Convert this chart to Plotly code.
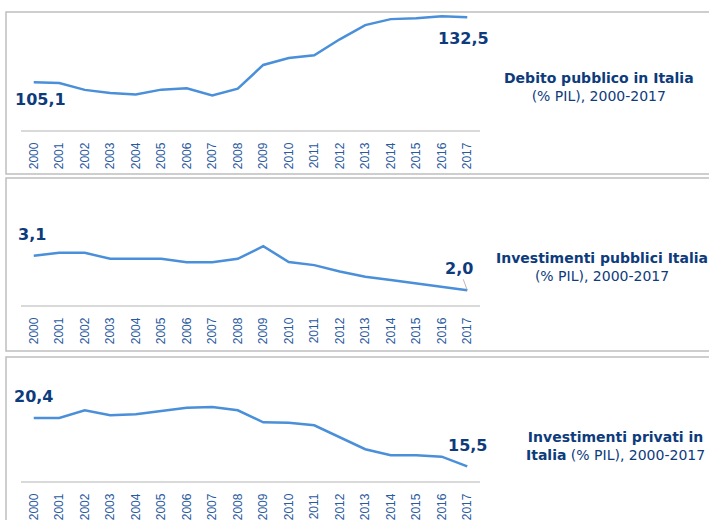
import plotly.graph_objects as go

# dati
anni = [str(a) for a in range(2000, 2018)]
debito = [105.1, 104.8, 101.9, 100.6, 100.0, 102.0, 102.6, 99.6, 102.4,
          112.4, 115.3, 116.5, 123.2, 129.2, 131.7, 132.1, 132.9, 132.5]
inv_pubblici = [3.1, 3.19, 3.19, 3.0, 3.0, 3.0, 2.89, 2.89, 3.0,
                3.4, 2.9, 2.8, 2.6, 2.43, 2.33, 2.22, 2.11, 2.0]
inv_privati = [20.4, 20.4, 21.18, 20.67, 20.78, 21.14, 21.44, 21.52, 21.18,
               19.96, 19.92, 19.66, 18.44, 17.23, 16.62, 16.62, 16.48, 15.5]

W, H = 709, 520
LINE = "#4a8fd9"
NAVY = "#0d3b7b"
TICK = "#2a5aa0"


def fy(px):
    # pixel dall'alto -> frazione paper
    return 1 - px / H


def lab(v):
    return f"{v:.1f}".replace(".", ",")


fig = go.Figure()
serie = [debito, inv_pubblici, inv_privati]
for i, s in enumerate(serie):
    n = "" if i == 0 else str(i + 1)
    fig.add_trace(go.Scatter(x=anni, y=s, mode="lines",
                             line=dict(color=LINE, width=2.5),
                             xaxis="x" + n, yaxis="y" + n,
                             showlegend=False, hoverinfo="skip"))

pannelli = [
    dict(top=12, bottom=130, rng=[85.0, 134.7]),
    dict(top=178, bottom=305, rng=[1.532, 5.57]),
    dict(top=357, bottom=481, rng=[14.01, 26.58]),
]
layout = {}
for i, p in enumerate(pannelli):
    n = "" if i == 0 else str(i + 1)
    layout["xaxis" + n] = dict(
        domain=[21 / W, 480 / W], anchor="y" + n, type="category",
        categoryorder="array", categoryarray=anni,
        range=[-0.5, len(anni) - 0.5],
        showline=True, linecolor="#d9d9d9", linewidth=1.5,
        showgrid=False, zeroline=False, ticks="", tickangle=-90,
        ticklabelstandoff=6,
        tickfont=dict(family="Liberation Sans", size=12, color=TICK))
    layout["yaxis" + n] = dict(
        domain=[fy(p["bottom"]), fy(p["top"])], anchor="x" + n,
        range=p["rng"], visible=False, fixedrange=True)

fig.update_layout(**layout)

# cornici dei pannelli
cornici = [(12, 174), (178, 351), (357, 540)]
for t, b in cornici:
    fig.add_shape(type="rect", xref="paper", yref="paper",
                  x0=6 / W, x1=1.05, y0=fy(b), y1=fy(t),
                  line=dict(color="#bfbfbf", width=1.5))

font_lab = dict(family="DejaVu Sans", size=16, color=NAVY)
ultimo = len(anni) - 1
etichette = [
    ("x", "y", 0, debito, 7, -17),
    ("x", "y", ultimo, debito, -3.5, -21),
    ("x2", "y2", 0, inv_pubblici, -2, 21),
    ("x3", "y3", 0, inv_privati, 0, 21),
    ("x3", "y3", ultimo, inv_privati, 0, 21),
]
for xr, yr, k, s, dx, dy in etichette:
    fig.add_annotation(x=k, y=s[k], xref=xr, yref=yr,
                       text="<b>" + lab(s[k]) + "</b>", showarrow=False,
                       xshift=dx, yshift=dy, font=font_lab)

# etichetta con linea guida
fig.add_annotation(x=ultimo, y=inv_pubblici[ultimo], xref="x2", yref="y2",
                   text="<b>" + lab(inv_pubblici[ultimo]) + "</b>",
                   showarrow=True, arrowhead=0, arrowwidth=0.8,
                   arrowcolor="#a6a6a6", ax=-8, ay=-22, standoff=0,
                   font=font_lab)

font_tit = dict(family="DejaVu Sans", size=14, color=NAVY)
titoli = [
    ("<b>Debito pubblico in Italia</b><br>(% PIL), 2000-2017", 599, 87),
    ("<b>Investimenti pubblici Italia</b><br>(% PIL), 2000-2017", 602, 267),
    ("<b>Investimenti privati in</b><br><b>Italia</b> (% PIL), 2000-2017", 615, 446),
]
for testo, cx, cy in titoli:
    fig.add_annotation(x=cx / W, y=fy(cy), xref="paper", yref="paper",
                       text=testo, showarrow=False, align="center",
                       xanchor="center", yanchor="middle", font=font_tit)

fig.update_layout(width=W, height=H, margin=dict(l=0, r=0, t=0, b=0),
                  paper_bgcolor="white", plot_bgcolor="white")

fig.write_html("out.html", config={"displayModeBar": False},
               post_script="document.body.style.margin='0';")
